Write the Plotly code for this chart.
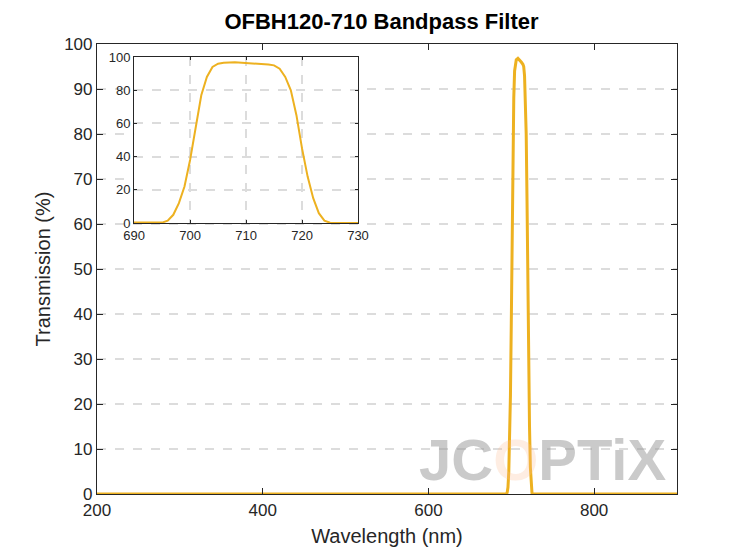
import plotly.graph_objects as go

# transmission spectrum (nm, %)
wl = [200, 690, 694, 695, 696, 697, 698, 699, 700, 701, 702, 703, 704, 705, 706, 708,
      710, 712, 714, 715, 716, 717, 718, 719, 720, 721, 722, 723, 724, 725, 726, 730, 900]
tr = [0, 0, 0, 0.3, 1.5, 5, 12, 22, 38, 58, 77, 88, 94, 96, 96.5, 96.8,
      96.5, 96, 95.5, 95, 93, 88, 80, 65, 45, 28, 15, 6, 1.5, 0.2, 0, 0, 0]

orange = "#EDB120"
font = "Liberation Sans, Arial, sans-serif"

fig = go.Figure()
fig.add_trace(go.Scatter(x=wl, y=tr, mode="lines", line=dict(color=orange, width=3),
                         showlegend=False))
fig.add_trace(go.Scatter(x=wl, y=tr, mode="lines", line=dict(color=orange, width=2),
                         xaxis="x2", yaxis="y2", showlegend=False))

axstyle = dict(showline=True, linecolor="#262626", linewidth=1.2, mirror="ticks",
               ticks="inside", zeroline=False, tickcolor="#262626")
fig.update_layout(
    width=747, height=560, plot_bgcolor="white", paper_bgcolor="white",
    margin=dict(l=89, r=78, t=36, b=74),
    font=dict(family=font, color="#262626"),
    title=dict(text="<b>OFBH120-710 Bandpass Filter</b>", x=0.5, xanchor="center",
               y=0.99, yanchor="top", font=dict(size=22, color="black")),
    xaxis=dict(range=[200, 900], tickvals=[200, 400, 600, 800], ticklen=6,
               showgrid=False, tickfont=dict(size=17),
               title=dict(text="Wavelength (nm)", font=dict(size=20), standoff=10), **axstyle),
    yaxis=dict(range=[0, 100], dtick=10, ticklen=6, showgrid=True, gridcolor="#dcdcdc",
               griddash="dash", gridwidth=1.5, tickfont=dict(size=17),
               title=dict(text="Transmission (%)", font=dict(size=20), standoff=8), **axstyle),
    xaxis2=dict(domain=[0.064, 0.45], anchor="y2", range=[690, 730], dtick=10, ticklen=3,
                showgrid=True, gridcolor="#dcdcdc", griddash="dash", gridwidth=1.5,
                tickfont=dict(size=13), **axstyle),
    yaxis2=dict(domain=[0.602, 0.971], anchor="x2", range=[0, 100], dtick=20, ticklen=3,
                showgrid=True, gridcolor="#dcdcdc", griddash="dash", gridwidth=1.5,
                tickfont=dict(size=13), **axstyle),
)
fig.add_annotation(xref="paper", yref="paper", x=0.985, y=0.0, xanchor="right", yanchor="bottom",
                   showarrow=False,
                   text="<b>JC<span style='color:rgba(250,190,150,0.55)'>O</span>PTiX</b>",
                   font=dict(size=58, color="rgba(150,150,150,0.5)", family="Liberation Sans Narrow, Arial Narrow, sans-serif"))

fig.write_html("out.html")
